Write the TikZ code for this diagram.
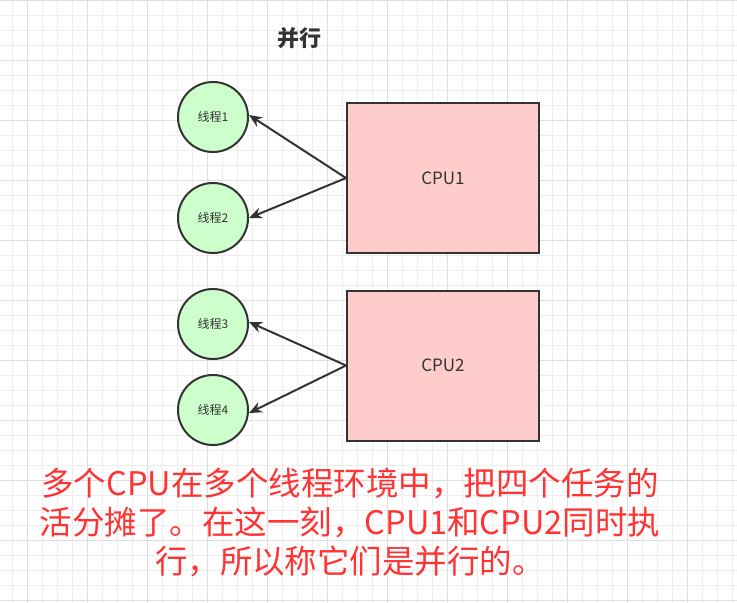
\documentclass[tikz,border=0pt]{standalone}
\usepackage{fontspec}
\setmainfont{Noto Sans CJK SC}
\usetikzlibrary{arrows.meta}
\definecolor{minorgrid}{HTML}{EDEDED}
\definecolor{majorgrid}{HTML}{DEDEDE}
\definecolor{strokec}{HTML}{333333}
\definecolor{threadfill}{HTML}{CCFFCC}
\definecolor{cpufill}{HTML}{FFCCCC}
\definecolor{notered}{HTML}{FF3333}
\tikzset{
  thread/.style={circle, draw=strokec, fill=threadfill, line width=2pt, minimum size=70pt, inner sep=0pt, text=strokec, font=\fontsize{12}{14}\selectfont},
  cpubox/.style={rectangle, draw=strokec, fill=cpufill, line width=2pt, minimum width=192pt, minimum height=150pt, inner sep=0pt, text=strokec, font=\fontsize{17}{20}\selectfont},
  link/.style={draw=strokec, line width=2pt, -{Stealth[length=13pt,width=11pt]}},
}
\begin{document}
\begin{tikzpicture}[x=1pt,y=-1pt]
\useasboundingbox (0,0) rectangle (737,603);
\fill[white] (0,0) rectangle (737,603);
\foreach \gx in {12,27,...,737} \draw[minorgrid, line width=1pt] (\gx,0) -- (\gx,603);
\foreach \gy in {15,30,...,603} \draw[minorgrid, line width=1pt] (0,\gy) -- (737,\gy);
\foreach \gx in {27,87,...,737} \draw[majorgrid, line width=1pt] (\gx,0) -- (\gx,603);
\foreach \gy in {0,60,...,603} \draw[majorgrid, line width=1pt] (0,\gy) -- (737,\gy);

\node[font=\fontsize{22}{24}\selectfont\bfseries, text=strokec] (title) at (299,38) {并行};

\node[thread] (t1) at (213,117) {线程1};
\node[thread] (t2) at (213,218) {线程2};
\node[thread] (t3) at (213,324) {线程3};
\node[thread] (t4) at (213,410) {线程4};

\node[cpubox] (cpu1) at (443,178) {CPU1};
\node[cpubox] (cpu2) at (443,365.5) {CPU2};

\draw[link] (cpu1.west) -- ([yshift=2pt]t1.east);
\draw[link] (cpu1.west) -- (t2.east);
\draw[link] (cpu2.west) -- ([yshift=2pt]t3.east);
\draw[link] (cpu2.west) -- ([yshift=-3pt]t4.east);

\node[text=notered, align=center, font=\fontsize{32.5}{39}\selectfont, inner sep=0pt] (note) at (350,522)
  {多个CPU在多个线程环境中，把四个任务的\\活分摊了。在这一刻，CPU1和CPU2同时执\\行，所以称它们是并行的。};
\end{tikzpicture}
\end{document}
